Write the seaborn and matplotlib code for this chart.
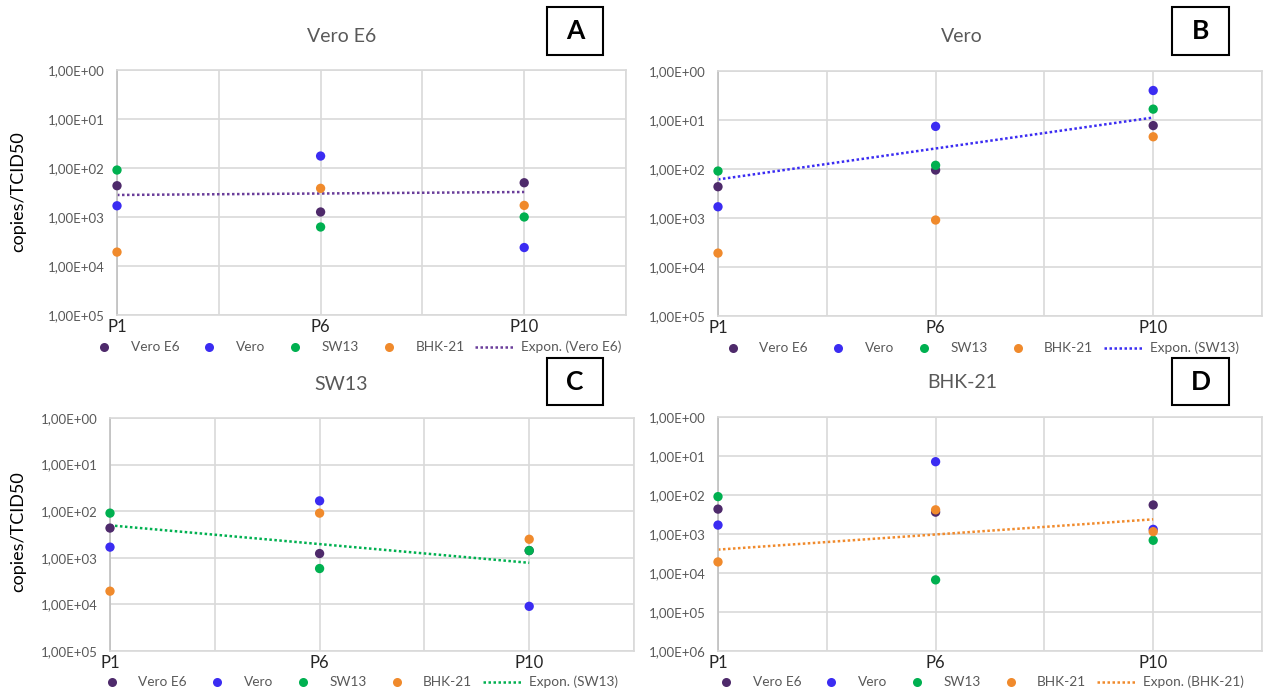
import numpy as np
import pandas as pd
import matplotlib
matplotlib.use("Agg")
import matplotlib.pyplot as plt
from matplotlib.lines import Line2D
from matplotlib.patches import Rectangle
from matplotlib.ticker import FuncFormatter
import seaborn as sns

sns.set_theme(style="white")
plt.rcParams['font.family'] = ['Lato', 'DejaVu Sans']

##data (copies/TCID50), x positions 1,2,3 -> P1, P6, P10
passages = ['P1', 'P6', 'P10']
series = ['Vero E6', 'Vero', 'SW13', 'BHK-21']
colors = ['#4E2A6B', '#3B2CF2', '#00B050', '#F08A2C']

panel_titles = ['Vero E6', 'Vero', 'SW13', 'BHK-21']
panel_letters = ['A', 'B', 'C', 'D']

a_vero_e6 = [2.3e2, 7.9e2, 2.0e2]
a_vero = [5.9e2, 5.7e1, 4.2e3]
a_sw13 = [1.1e2, 1.6e3, 1.0e3]
a_bhk21 = [5.2e3, 2.6e2, 5.8e2]

b_vero_e6 = [2.3e2, 1.05e2, 1.3e1]
b_vero = [5.9e2, 1.35e1, 2.5e0]
b_sw13 = [1.1e2, 8.4e1, 6.0e0]
b_bhk21 = [5.2e3, 1.1e3, 2.2e1]

c_vero_e6 = [2.3e2, 8.1e2, 7.0e2]
c_vero = [5.9e2, 6.0e1, 1.1e4]
c_sw13 = [1.1e2, 1.7e3, 7.0e2]
c_bhk21 = [5.2e3, 1.1e2, 4.0e2]

d_vero_e6 = [2.3e2, 2.75e2, 1.8e2]
d_vero = [5.9e2, 1.4e1, 7.6e2]
d_sw13 = [1.1e2, 1.5e4, 1.45e3]
d_bhk21 = [5.2e3, 2.4e2, 8.7e2]

panel_data = [
    [a_vero_e6, a_vero, a_sw13, a_bhk21],
    [b_vero_e6, b_vero, b_sw13, b_bhk21],
    [c_vero_e6, c_vero, c_sw13, c_bhk21],
    [d_vero_e6, d_vero, d_sw13, d_bhk21],
]
# which series gets the exponential trendline, its colour and legend label
trend_series = ['Vero E6', 'SW13', 'SW13', 'BHK-21']
trend_colors = ['#6A3D9A', '#3B2CF2', '#00B050', '#F08A2C']
trend_labels = ['Expon. (Vero E6)', 'Expon. (SW13)', 'Expon. (SW13)', 'Expon. (BHK-21)']
y_max = [1e5, 1e5, 1e5, 1e6]

W, H = 1264, 691
fig = plt.figure(figsize=(W / 100, H / 100), dpi=100)

def px_rect(l, t, r, b):
    return [l / W, 1 - b / H, (r - l) / W, (b - t) / H]

axes_px = [(117, 70, 626, 315), (718, 71, 1262, 316),
           (110, 418, 634, 651), (718, 417, 1262, 651)]
title_px = [(342, 37), (962, 37), (341, 385), (962, 383)]
box_px = [(547, 7, 603, 55), (1172, 7, 1229, 55),
          (547, 358, 603, 405), (1172, 358, 1229, 405)]
legend_px = [(353, 347), (976, 348), (355, 682), (975, 682)]

grid_c = '#D9D9D9'
fmt = FuncFormatter(lambda v, p: ('%.2E' % v).replace('.', ','))

for i in range(4):
    ax = fig.add_axes(px_rect(*axes_px[i]))
    df = pd.DataFrame({
        'x': np.tile([1, 2, 3], 4),
        'value': np.concatenate(panel_data[i]),
        'series': np.repeat(series, 3),
    })
    sns.scatterplot(data=df, x='x', y='value', hue='series', hue_order=series,
                    palette=colors, s=45, linewidth=0, ax=ax, legend=False,
                    zorder=3, clip_on=False)

    # exponential trendline (log-linear fit like Excel)
    sub = df[df.series == trend_series[i]]
    k, c0 = np.polyfit(sub.x, np.log10(sub.value), 1)
    xs = np.linspace(1, 3, 50)
    ax.plot(xs, 10 ** (k * xs + c0), linestyle=(0, (1, 1)), color=trend_colors[i],
            linewidth=1.8, zorder=2)

    ax.set_yscale('log')
    ax.set_ylim(y_max[i], 1)
    ax.yaxis.set_major_formatter(fmt)
    ax.yaxis.set_minor_locator(matplotlib.ticker.NullLocator())
    ax.set_xlim(1, 3.5)
    ax.set_xticks([1, 1.5, 2, 2.5, 3, 3.5])
    ax.set_xticklabels(['P1', '', 'P6', '', 'P10', ''])
    ax.grid(True, color=grid_c, linewidth=1.2)
    for s in ax.spines.values():
        s.set_color(grid_c)
        s.set_linewidth(1.2)
    ax.spines['left'].set_color('#BFBFBF')
    ax.tick_params(axis='y', length=0, pad=9, labelsize=9.5, labelcolor='#595959')
    ax.tick_params(axis='x', length=0, pad=3, labelsize=12, labelcolor='#262626')
    ax.set_xlabel('')
    ax.set_ylabel('')

    fig.text(title_px[i][0] / W, 1 - title_px[i][1] / H, panel_titles[i],
             ha='center', va='center', fontsize=14, color='#595959')

    l, t, r, b = box_px[i]
    fig.patches.append(Rectangle((l / W, 1 - b / H), (r - l) / W, (b - t) / H,
                                 transform=fig.transFigure, fill=False,
                                 edgecolor='black', linewidth=1.5))
    fig.text((l + r) / 2 / W, 1 - (t + b) / 2 / H, panel_letters[i],
             ha='center', va='center', fontsize=19, fontweight='bold', color='black')

    handles = [Line2D([], [], marker='o', linestyle='', markersize=6.5,
                      markerfacecolor=c, markeredgewidth=0) for c in colors]
    handles.append(Line2D([], [], linestyle=(0, (1, 1)), linewidth=1.8, color=trend_colors[i]))
    fig.legend(handles, series + [trend_labels[i]], ncol=5, frameon=False,
               loc='center', bbox_to_anchor=(legend_px[i][0] / W, 1 - legend_px[i][1] / H),
               fontsize=9.8, handlelength=2.9, handletextpad=0.5, columnspacing=0.75,
               labelcolor='#595959')

fig.text(18 / W, 1 - 192 / H, 'copies/TCID50', rotation=90, ha='center', va='center',
         fontsize=13, color='black')
fig.text(18 / W, 1 - 532 / H, 'copies/TCID50', rotation=90, ha='center', va='center',
         fontsize=13, color='black')

fig.savefig('out.png', dpi=100, facecolor='white')
